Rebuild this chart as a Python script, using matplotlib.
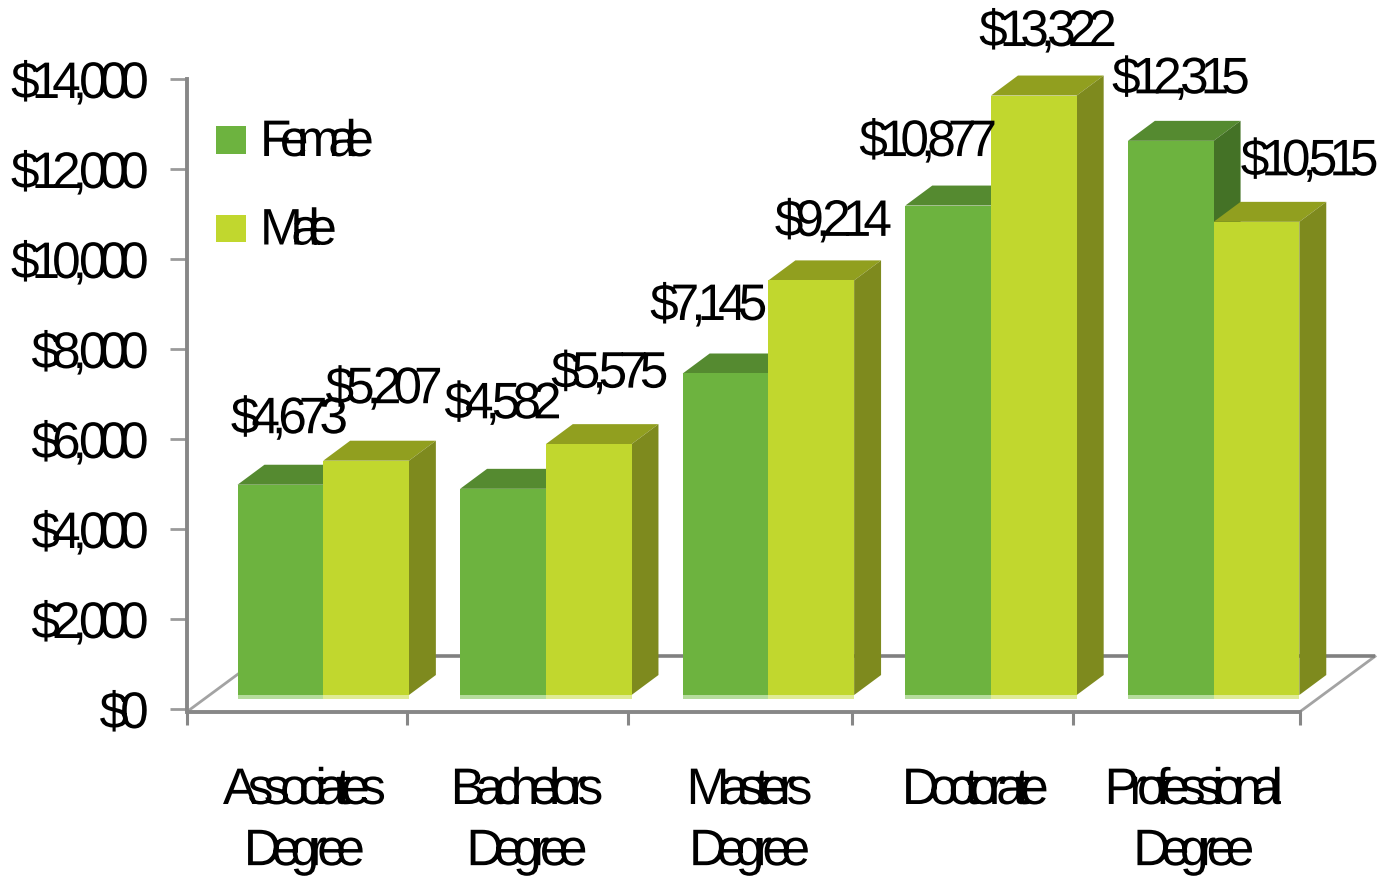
import matplotlib
matplotlib.use("Agg")
import numpy as np
import matplotlib.pyplot as plt
from matplotlib.patches import Polygon, Rectangle
from matplotlib.path import Path
from matplotlib.patheffects import AbstractPathEffect
from matplotlib.transforms import IdentityTransform

plt.rcParams['font.family'] = ['Liberation Sans', 'DejaVu Sans']

# Values
categories = ['Associates\nDegree', 'Bachelors\nDegree', 'Masters\nDegree', 'Doctorate', 'Professional\nDegree']
female = [4673, 4582, 7145, 10877, 12315]
male = [5207, 5575, 9214, 13322, 10515]
y_ticks = [0, 2000, 4000, 6000, 8000, 10000, 12000, 14000]
series_names = ['Female', 'Male']

# Where the labels sit relative to the top of their bar, in pixels
female_label_dx = [9, 0, -17, -20, 10]
female_label_dy = [65, 84, 67, 63, 61]
male_label_dx = [18, 21, 22, 14, 53]
male_label_dy = [71, 70, 58, 63, 60]
x_tick_pos = [-0.5, 0.488, 1.48, 2.487, 3.48, 4.5]
cat_label_dx = [6, 6, 6, 9, 5]

W, H = 1382, 881
LEFT, RIGHT, TOP, BOTTOM = 187, 1300, 79, 709

# fake 3d: how far bars sit from the front edge and how deep they are
FLOOR_X, FLOOR_Y = 0.112, 311
DEPTH_X, DEPTH_Y = 0.121, 444
WALL_X, WALL_Y = 0.337, 1170
BAR_W = 0.385
STRIP_H = 85
FONT_SIZE = 37

GREEN = ['#6db33f', '#558a30', '#447226', '#b5dc9c']
LIME = ['#c1d72e', '#919f1f', '#7e8a1e', '#dfeb95']


class Tracking(AbstractPathEffect):
    """Pulls the glyphs of a text closer together by px pixels each"""

    def __init__(self, px, anchor='center'):
        super().__init__()
        self.px = px
        self.anchor = anchor

    def draw_path(self, renderer, gc, tpath, affine, rgbFace=None):
        verts = np.array(affine.transform(tpath.vertices))
        codes = tpath.codes
        starts = list(np.where(codes == Path.MOVETO)[0]) + [len(codes)]

        # Contours that overlap in x belong to the same glyph
        groups = []
        for a, b in zip(starts[:-1], starts[1:]):
            keep = codes[a:b] != Path.CLOSEPOLY
            lo, hi = verts[a:b][keep, 0].min(), verts[a:b][keep, 0].max()
            if groups and lo < groups[-1][3]:
                groups[-1][1] = b
                groups[-1][3] = max(groups[-1][3], hi)
            else:
                groups.append([a, b, lo, hi])

        n = len(groups)
        for i, (a, b, lo, hi) in enumerate(groups):
            if self.anchor == 'left':
                shift = -self.px * i
            elif self.anchor == 'right':
                shift = self.px * (n - 1 - i)
            else:
                shift = -self.px * (i - (n - 1) / 2)
            verts[a:b, 0] += shift
        renderer.draw_path(gc, Path(verts, codes), IdentityTransform(), rgbFace)


fig = plt.figure(figsize=(W / 100, H / 100), dpi=100)
ax = fig.add_axes([LEFT / W, 1 - BOTTOM / H, (RIGHT - LEFT) / W, (BOTTOM - TOP) / H])
ax.set_xlim(-0.5, 4.5)
ax.set_ylim(0, 14000)
ax.patch.set_visible(False)


def draw_bar(x, value, colors, order):
    """Draws one bar with its top and side faces and the pale strip below it"""
    x0 = x + FLOOR_X
    x1 = x0 + BAR_W
    y0 = FLOOR_Y
    y1 = value + FLOOR_Y
    ax.add_patch(Polygon([(x0, y1), (x1, y1), (x1 + DEPTH_X, y1 + DEPTH_Y), (x0 + DEPTH_X, y1 + DEPTH_Y)],
                         fc=colors[1], ec='none', clip_on=False, zorder=order))
    ax.add_patch(Polygon([(x1, y0), (x1 + DEPTH_X, y0 + DEPTH_Y), (x1 + DEPTH_X, y1 + DEPTH_Y), (x1, y1)],
                         fc=colors[2], ec='none', clip_on=False, zorder=order))
    ax.bar(x0, value, BAR_W, bottom=y0, align='edge', color=colors[0], edgecolor='none',
           clip_on=False, zorder=order + 0.5)
    ax.bar(x0, STRIP_H, BAR_W, bottom=y0 - STRIP_H, align='edge', color=colors[3], edgecolor='none',
           clip_on=False, zorder=order + 0.5)
    return x0 + BAR_W / 2, y1


def bar_label(xy, value, dx, dy):
    ax.annotate('$' + format(value, ','), xy, xytext=(dx, dy), textcoords='offset pixels',
                fontsize=FONT_SIZE, ha='center', va='center', color='black', zorder=20,
                annotation_clip=False, path_effects=[Tracking(8)])


# Floor lines behind the bars
ax.plot([-0.5, -0.5 + WALL_X], [-60, WALL_Y], color='#a3a3a3', lw=2, clip_on=False, zorder=1)
ax.plot([4.5, 4.5 + WALL_X], [-60, WALL_Y], color='#a3a3a3', lw=2, clip_on=False, zorder=1)
ax.plot([-0.5 + WALL_X, 4.5 + WALL_X], [WALL_Y, WALL_Y], color='#808080', lw=2.6, clip_on=False, zorder=1,
        solid_capstyle='butt')

for i in range(len(categories)):
    f_top = draw_bar(i - BAR_W, female[i], GREEN, 2 + i)
    m_top = draw_bar(i, male[i], LIME, 2.2 + i)
    bar_label(f_top, female[i], female_label_dx[i], female_label_dy[i])
    bar_label(m_top, male[i], male_label_dx[i], male_label_dy[i])

ax.spines['top'].set_visible(False)
ax.spines['right'].set_visible(False)
ax.spines['bottom'].set_position(('outward', 2.5))
for side in ['left', 'bottom']:
    ax.spines[side].set_color('#878787')
    ax.spines[side].set_linewidth(2.8)

ax.set_yticks(y_ticks)
ax.set_yticklabels(['$' + format(v, ',') for v in y_ticks], fontsize=FONT_SIZE)
for label in ax.get_yticklabels():
    label.set_path_effects([Tracking(8, 'right')])
ax.set_xticks(x_tick_pos)
ax.set_xticklabels([])
ax.tick_params(axis='y', length=12.5, width=2, color='#9a9a9a', pad=15)
ax.tick_params(axis='x', length=9, width=2.2, color='#878787')

for i, name in enumerate(categories):
    ax.annotate(name, (i, 0), xytext=(cat_label_dx[i], -57), textcoords='offset pixels', fontsize=FONT_SIZE,
                ha='center', va='top', linespacing=1.32, annotation_clip=False,
                path_effects=[Tracking(9.5)])

# Legend placed by hand to match the squares
for i, (name, col) in enumerate(zip(series_names, [GREEN[0], LIME[0]])):
    py = 139.5 + i * 88.5
    fig.add_artist(Rectangle((216 / W, 1 - (py + 14) / H), 30 / W, 27.5 / H, transform=fig.transFigure,
                             fc=col, ec='none'))
    fig.text(260 / W, 1 - (py + 3) / H, name, fontsize=FONT_SIZE, va='center', ha='left',
             path_effects=[Tracking(11.5, 'left')])

fig.savefig('out.png', dpi=100)
